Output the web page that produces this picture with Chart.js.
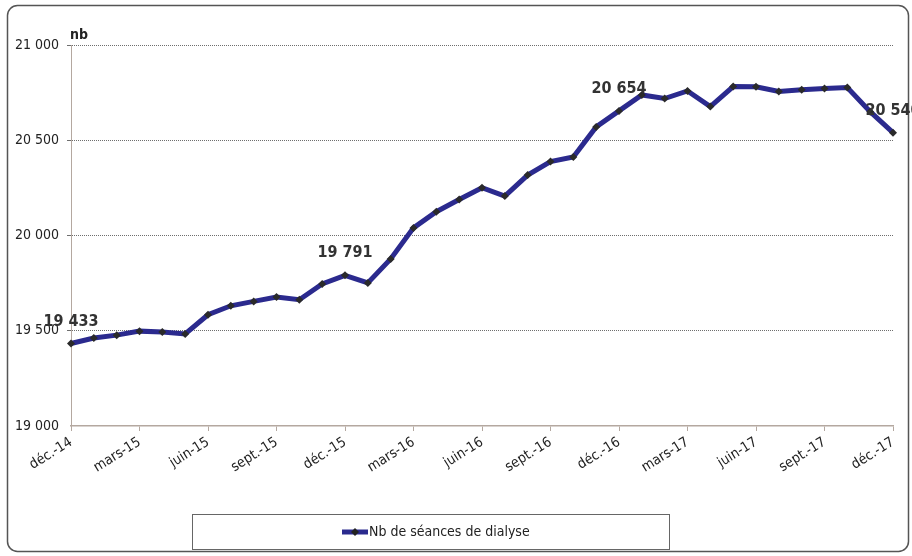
<!DOCTYPE html>
<html>
<head>
<meta charset="utf-8">
<script src="https://cdn.jsdelivr.net/npm/chart.js@4"></script>
<style>
  html, body { margin: 0; padding: 0; background: #fff; }
  #wrap { width: 912px; height: 556px; }
</style>
</head>
<body>
<div id="wrap"><canvas id="chart" width="912" height="556"></canvas></div>
<script>
'use strict';

// monthly sessions, déc. 2014 -> déc. 2017
const months = [
  'déc.-14', 'janv.-15', 'févr.-15', 'mars-15', 'avr.-15', 'mai-15',
  'juin-15', 'juil.-15', 'août-15', 'sept.-15', 'oct.-15', 'nov.-15',
  'déc.-15', 'janv.-16', 'févr.-16', 'mars-16', 'avr.-16', 'mai-16',
  'juin-16', 'juil.-16', 'août-16', 'sept.-16', 'oct.-16', 'nov.-16',
  'déc.-16', 'janv.-17', 'févr.-17', 'mars-17', 'avr.-17', 'mai-17',
  'juin-17', 'juil.-17', 'août-17', 'sept.-17', 'oct.-17', 'nov.-17',
  'déc.-17'
];
const sessions = [
  19433, 19462, 19477, 19498, 19493, 19483,
  19584, 19631, 19654, 19677, 19663, 19746,
  19791, 19751, 19877, 20040, 20125, 20189,
  20251, 20207, 20317, 20388, 20412, 20570,
  20654, 20738, 20719, 20759, 20677, 20782,
  20781, 20756, 20765, 20772, 20777, 20650,
  20540
];
const labelledPoints = [0, 12, 24, 36];
const yTicks = [19000, 19500, 20000, 20500, 21000];
const seriesName = 'Nb de séances de dialyse';
const unitLabel = 'nb';

const FONT = "'DejaVu Sans Condensed', 'DejaVu Sans', sans-serif";
const LINE_COLOR = '#2b2a8e';
const AXIS_COLOR = '#b4a8a0';

function fmt(n) {
  return String(n).replace(/\B(?=(\d{3})+(?!\d))/g, ' ');
}

// frame, unit label, value labels and legend box
const decorPlugin = {
  id: 'decor',
  beforeDraw(chart) {
    const ctx = chart.ctx;
    ctx.save();
    ctx.fillStyle = '#ffffff';
    ctx.fillRect(0, 0, chart.width, chart.height);
    ctx.restore();
  },
  afterDraw(chart) {
    const ctx = chart.ctx;
    const area = chart.chartArea;
    ctx.save();

    // outer rounded frame
    ctx.strokeStyle = '#555';
    ctx.lineWidth = 1.5;
    ctx.beginPath();
    ctx.roundRect(7.5, 5.5, 901, 546, 10);
    ctx.stroke();

    // unit
    ctx.fillStyle = '#222';
    ctx.font = 'bold 14px ' + FONT;
    ctx.textAlign = 'left';
    ctx.textBaseline = 'alphabetic';
    ctx.fillText(unitLabel, area.left - 1, area.top - 6);

    // value labels
    const meta = chart.getDatasetMeta(0);
    ctx.font = 'bold 16px ' + FONT;
    ctx.fillStyle = '#333';
    ctx.textAlign = 'center';
    ctx.textBaseline = 'middle';
    labelledPoints.forEach(i => {
      const pt = meta.data[i];
      ctx.fillText(fmt(sessions[i]), pt.x, pt.y - 22);
    });

    // legend
    const lx = 192, ly = 514, lw = 477, lh = 35;
    ctx.strokeStyle = '#666';
    ctx.lineWidth = 1;
    ctx.strokeRect(lx + 0.5, ly + 0.5, lw, lh);
    const cy = ly + lh / 2 + 0.5;
    ctx.strokeStyle = LINE_COLOR;
    ctx.lineWidth = 5;
    ctx.beginPath();
    ctx.moveTo(342, cy);
    ctx.lineTo(368, cy);
    ctx.stroke();
    ctx.fillStyle = '#222';
    ctx.beginPath();
    ctx.moveTo(355, cy - 4);
    ctx.lineTo(359, cy);
    ctx.lineTo(355, cy + 4);
    ctx.lineTo(351, cy);
    ctx.closePath();
    ctx.fill();
    ctx.font = '14px ' + FONT;
    ctx.textAlign = 'left';
    ctx.textBaseline = 'middle';
    ctx.fillStyle = '#222';
    ctx.fillText(seriesName, 369, cy);

    ctx.restore();
  }
};

Chart.defaults.font.family = FONT;
Chart.defaults.color = '#222';

const canvasElem = document.getElementById('chart');

new Chart(canvasElem, {
  type: 'line',
  data: {
    labels: months,
    datasets: [{
      label: seriesName,
      data: sessions,
      borderColor: LINE_COLOR,
      borderWidth: 5,
      backgroundColor: '#222',
      pointStyle: 'rectRot',
      pointRadius: 4,
      pointBorderWidth: 0,
      pointBackgroundColor: '#2a2a2a',
      tension: 0,
      clip: false
    }]
  },
  options: {
    responsive: false,
    animation: false,
    layout: { padding: { top: 45, right: 19, bottom: 78, left: 0 } },
    plugins: {
      legend: { display: false },
      tooltip: { enabled: false }
    },
    scales: {
      x: {
        offset: false,
        afterFit(scale) { scale.height = 52; },
        border: { color: AXIS_COLOR, width: 1.5 },
        grid: {
          drawOnChartArea: false,
          tickLength: 5,
          tickColor: c => (c.index % 3 === 0 ? AXIS_COLOR : 'rgba(0,0,0,0)')
        },
        ticks: {
          autoSkip: false,
          minRotation: 32,
          maxRotation: 32,
          padding: 3,
          font: { size: 14 },
          color: '#222',
          callback(value, index) {
            return index % 3 === 0 ? months[index] : '';
          }
        }
      },
      y: {
        min: yTicks[0],
        max: yTicks[yTicks.length - 1],
        afterFit(scale) { scale.width = 71; },
        afterBuildTicks(scale) {
          scale.ticks = yTicks.map(v => ({ value: v }));
        },
        border: { color: AXIS_COLOR, width: 1, dash: [1, 1] },
        grid: {
          color: c => (c.tick && c.tick.value === yTicks[0] ? 'rgba(0,0,0,0)' : '#6e6e6e'),
          lineWidth: 1,
          tickLength: 4
        },
        ticks: {
          padding: 8,
          font: { size: 14 },
          color: '#222',
          callback: v => fmt(v)
        }
      }
    }
  },
  plugins: [decorPlugin]
});
</script>
</body>
</html>
